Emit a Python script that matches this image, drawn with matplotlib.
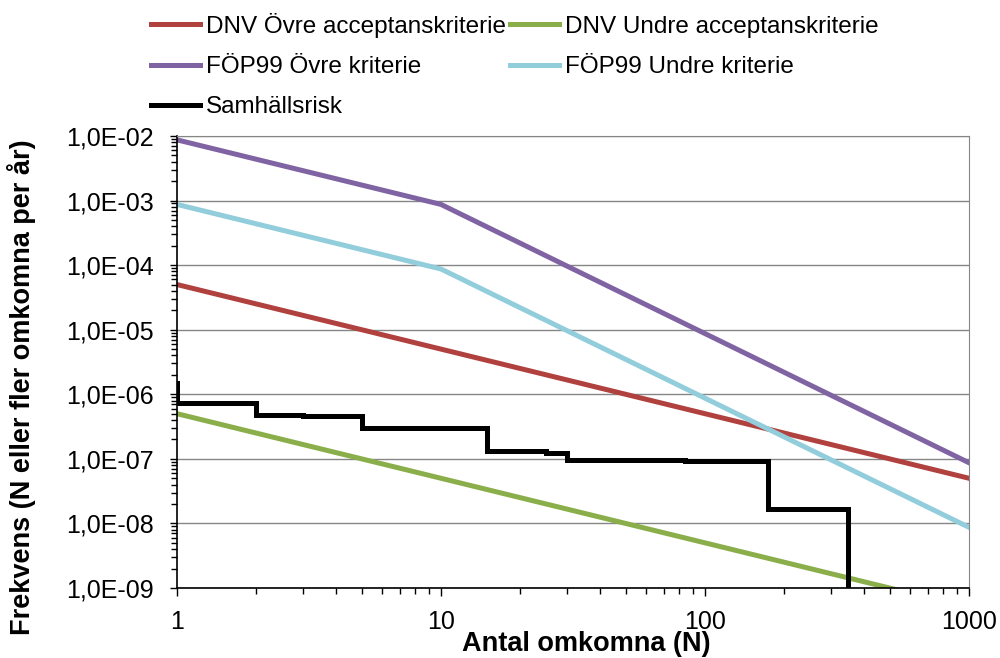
import matplotlib
matplotlib.use("Agg")
import matplotlib.pyplot as plt
from matplotlib.ticker import FixedLocator, LogLocator, NullFormatter

plt.rcParams["font.family"] = ["Liberation Sans", "DejaVu Sans"]

# criteria lines (N, frequency)
dnv_upper_n = [1, 1000]
dnv_upper_f = [5e-5, 5e-8]
dnv_lower_n = [1, 1000]
dnv_lower_f = [5e-7, 5e-10]
fop_upper_n = [1, 10, 1000]
fop_upper_f = [8.7e-3, 8.7e-4, 8.7e-8]
fop_lower_n = [1, 10, 1000]
fop_lower_f = [8.7e-4, 8.7e-5, 8.7e-9]

# societal risk F/N curve (step)
risk_n = [1, 1, 2, 3, 5, 15, 25, 30, 84, 173, 348, 348]
risk_f = [1.5e-6, 7.2e-7, 4.8e-7, 4.6e-7, 3.0e-7, 1.3e-7, 1.25e-7,
          9.5e-8, 9.2e-8, 1.65e-8, 1.65e-8, 1e-9]

y_ticks = [1e-9, 1e-8, 1e-7, 1e-6, 1e-5, 1e-4, 1e-3, 1e-2]
y_labels = ["1,0E-09", "1,0E-08", "1,0E-07", "1,0E-06",
            "1,0E-05", "1,0E-04", "1,0E-03", "1,0E-02"]
x_ticks = [1, 10, 100, 1000]
x_labels = ["1", "10", "100", "1000"]

RED = "#B0413E"
GREEN = "#8AAE4A"
PURPLE = "#7F63A2"
LIGHTBLUE = "#92CDDC"

fig = plt.figure(figsize=(10, 6.58), dpi=100)
ax = fig.add_axes([0.177, 0.1064, 0.792, 0.687])

lw = 3.6
h1, = ax.plot(dnv_upper_n, dnv_upper_f, color=RED, lw=lw, label="DNV Övre acceptanskriterie")
h2, = ax.plot(dnv_lower_n, dnv_lower_f, color=GREEN, lw=lw, label="DNV Undre acceptanskriterie")
h3, = ax.plot(fop_upper_n, fop_upper_f, color=PURPLE, lw=lw, label="FÖP99 Övre kriterie")
h4, = ax.plot(fop_lower_n, fop_lower_f, color=LIGHTBLUE, lw=lw, label="FÖP99 Undre kriterie")
h5, = ax.plot(risk_n, risk_f, color="black", lw=lw, drawstyle="steps-post",
              label="Samhällsrisk", solid_joinstyle="miter")

ax.set_xscale("log")
ax.set_yscale("log")
ax.set_xlim(1, 1000)
ax.set_ylim(1e-9, 1e-2)

ax.yaxis.set_major_locator(FixedLocator(y_ticks))
ax.set_yticklabels(y_labels)
ax.xaxis.set_major_locator(FixedLocator(x_ticks))
ax.set_xticklabels(x_labels)
ax.xaxis.set_minor_locator(LogLocator(base=10, subs=range(2, 10)))
ax.yaxis.set_minor_locator(LogLocator(base=10, subs=range(2, 10)))
ax.xaxis.set_minor_formatter(NullFormatter())
ax.yaxis.set_minor_formatter(NullFormatter())

ax.tick_params(axis="both", which="both", direction="out", width=1, labelsize=18)
ax.tick_params(axis="y", which="major", length=5, pad=12)
ax.tick_params(axis="y", which="minor", length=4)
ax.tick_params(axis="x", which="major", length=6, pad=10)
ax.tick_params(axis="x", which="minor", length=4)

ax.grid(True, which="major", axis="y", color="#868686", lw=1)
ax.set_axisbelow(True)
for s in ("top", "right"):
    ax.spines[s].set_color("#868686")
for s in ("left", "bottom"):
    ax.spines[s].set_linewidth(1.2)

ax.set_xlabel("Antal omkomna (N)", fontsize=19.5, fontweight="bold")
ax.xaxis.set_label_coords(0.517, -0.124)
ax.xaxis.label.set_va("center")
ax.set_ylabel("Frekvens (N eller fler omkomna per år)", fontsize=19.5,
              fontweight="bold")
ax.yaxis.set_label_coords(-0.196, 0.445)
ax.yaxis.label.set_va("center")

fig.legend([h1, h3, h5, h2, h4],
           [h.get_label() for h in (h1, h3, h5, h2, h4)],
           ncol=2, loc="upper left", bbox_to_anchor=(0.132, 1.01),
           frameon=False, fontsize=17.5, handlelength=2.0, handletextpad=0.25,
           columnspacing=0.17, labelspacing=0.75, borderpad=0.3)

fig.savefig("out.png", dpi=100)
